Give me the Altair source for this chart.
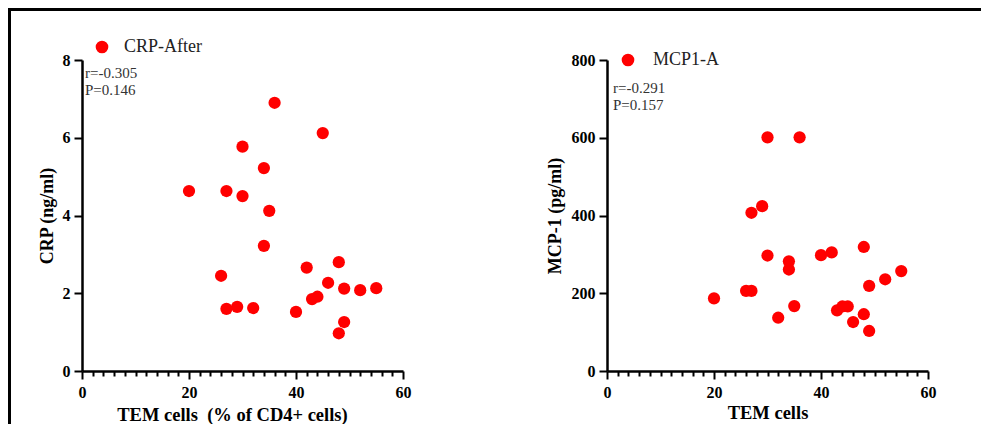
import altair as alt
import pandas as pd

# ---- data ----
tem_cells_crp = [20, 27, 30, 30, 36, 45, 34, 35, 34, 26, 27, 29, 32, 40, 42, 48, 46, 43, 44, 49, 52, 55, 49, 48]
crp_after = [4.63, 4.63, 4.50, 5.77, 6.90, 6.12, 5.22, 4.12, 3.22, 2.45, 1.60, 1.65, 1.62, 1.52, 2.66, 2.80,
             2.27, 1.85, 1.91, 2.12, 2.08, 2.13, 1.26, 0.97]

tem_cells_mcp = [20, 26, 27, 27, 29, 30, 36, 30, 34, 34, 32, 35, 40, 42, 48, 43, 44, 45, 46, 48, 49, 49, 52, 55]
mcp1_a = [187, 206, 206, 407, 424, 601, 601, 297, 282, 261, 137, 167, 298, 305, 319, 156, 166, 166, 126, 146,
          219, 103, 236, 257]

x_ticks = [0, 20, 40, 60]
crp_ticks = [0, 2, 4, 6, 8]
mcp_ticks = [0, 200, 400, 600, 800]

stats_crp = ["r=-0.305", "P=0.146"]
stats_mcp = ["r=-0.291", "P=0.157"]

W, H = 321, 311
SERIF = "Liberation Serif"
RED = "#ff0000"

df_crp = pd.DataFrame({"x": tem_cells_crp, "y": crp_after, "series": "CRP-After"})
df_mcp = pd.DataFrame({"x": tem_cells_mcp, "y": mcp1_a, "series": "MCP1-A"})
one = pd.DataFrame({"k": [0]})


def x_axis(title, title_x, title_y):
    return alt.Axis(
        values=list(range(0, 61, 2)),
        labelExpr="datum.value % 20 === 0 ? datum.label : ''",
        tickSize={"condition": {"test": "datum.value % 20 === 0", "value": 8}, "value": 5},
        tickWidth=2, tickColor="black", domainWidth=2.5, domainColor="black",
        labelFont=SERIF, labelFontWeight="bold", labelFontSize=16, labelColor="black",
        labelPadding=5, labelOverlap=False, labelFlush=False, grid=False,
        title=title, titleFont=SERIF, titleFontWeight="bold", titleFontSize=18.5, titleColor="black",
        titleX=title_x, titleY=title_y, titleAlign="center", titleBaseline="alphabetic",
    )


def y_axis(values, title, title_x):
    return alt.Axis(
        values=values, tickSize=8, tickWidth=2, tickColor="black", domainWidth=2.5, domainColor="black",
        labelFont=SERIF, labelFontWeight="bold", labelFontSize=16, labelColor="black",
        labelPadding=4, grid=False,
        title=title, titleFont=SERIF, titleFontWeight="bold", titleFontSize=18, titleColor="black",
        titleX=title_x, titleY=H / 2, titleAlign="center", titleBaseline="middle", titleAngle=270,
    )


def panel(df, ydomain, yvals, ytitle, ytitle_x, xtitle, xtitle_x, xtitle_y, series, leg_x, leg_y,
          leg_off, stats, sx, sy):
    pts = alt.Chart(df).mark_circle(size=150, opacity=1, color=RED).encode(
        x=alt.X("x:Q", scale=alt.Scale(domain=[0, 60], nice=False, zero=True),
                axis=x_axis(xtitle, xtitle_x, xtitle_y)),
        y=alt.Y("y:Q", scale=alt.Scale(domain=ydomain, nice=False, zero=True),
                axis=y_axis(yvals, ytitle, ytitle_x)),
        color=alt.Color("series:N", scale=alt.Scale(domain=[series], range=[RED]),
                        legend=alt.Legend(orient="none", legendX=leg_x, legendY=leg_y, title=None,
                                          symbolType="circle", symbolSize=160, symbolStrokeWidth=0,
                                          symbolFillColor=RED, labelFont=SERIF, labelFontSize=18,
                                          labelColor="#222", labelOffset=leg_off, padding=0)),
    )
    txt1 = alt.Chart(one).mark_text(text=stats[0], font=SERIF, fontSize=15, color="#333",
                                    align="left", baseline="middle").encode(
        x=alt.value(sx), y=alt.value(sy))
    txt2 = alt.Chart(one).mark_text(text=stats[1], font=SERIF, fontSize=15, color="#333",
                                    align="left", baseline="middle").encode(
        x=alt.value(sx), y=alt.value(sy + 16.5))
    return [pts, txt1, txt2]


left_layers = panel(df_crp, [0, 8], crp_ticks, "CRP (ng/ml)", -35,
                    "TEM cells\u00a0 (% of CD4+ cells)", 150, 49, "CRP-After", 11, -22, 13,
                    stats_crp, 3, 13)
right_layers = panel(df_mcp, [0, 800], mcp_ticks, "MCP-1 (pg/ml)", -52,
                     "TEM cells", W / 2, 47, "MCP1-A", 12, -9, 16,
                     stats_mcp, 6, 28)

# outer figure frame (top and left edges), drawn as thin filled bands
frame_top = alt.Chart(one).mark_rect(color="black").encode(
    x=alt.value(-74), x2=alt.value(420), y=alt.value(-52), y2=alt.value(-49))
frame_left = alt.Chart(one).mark_rect(color="black").encode(
    x=alt.value(-74), x2=alt.value(-71), y=alt.value(-52), y2=alt.value(364))
frame_top_r = alt.Chart(one).mark_rect(color="black").encode(
    x=alt.value(-190), x2=alt.value(374), y=alt.value(-52), y2=alt.value(-49))

left = alt.layer(*left_layers, frame_top, frame_left).properties(width=W, height=H)
right = alt.layer(*right_layers, frame_top_r).properties(width=W, height=H)

chart = alt.hconcat(left, right, spacing=204, bounds="flush").resolve_scale(
    color="independent").resolve_legend(color="independent").properties(
    padding=0, background="white").configure_view(stroke=None)

chart.save("out.html", embed_options={"renderer": "svg", "actions": False})
